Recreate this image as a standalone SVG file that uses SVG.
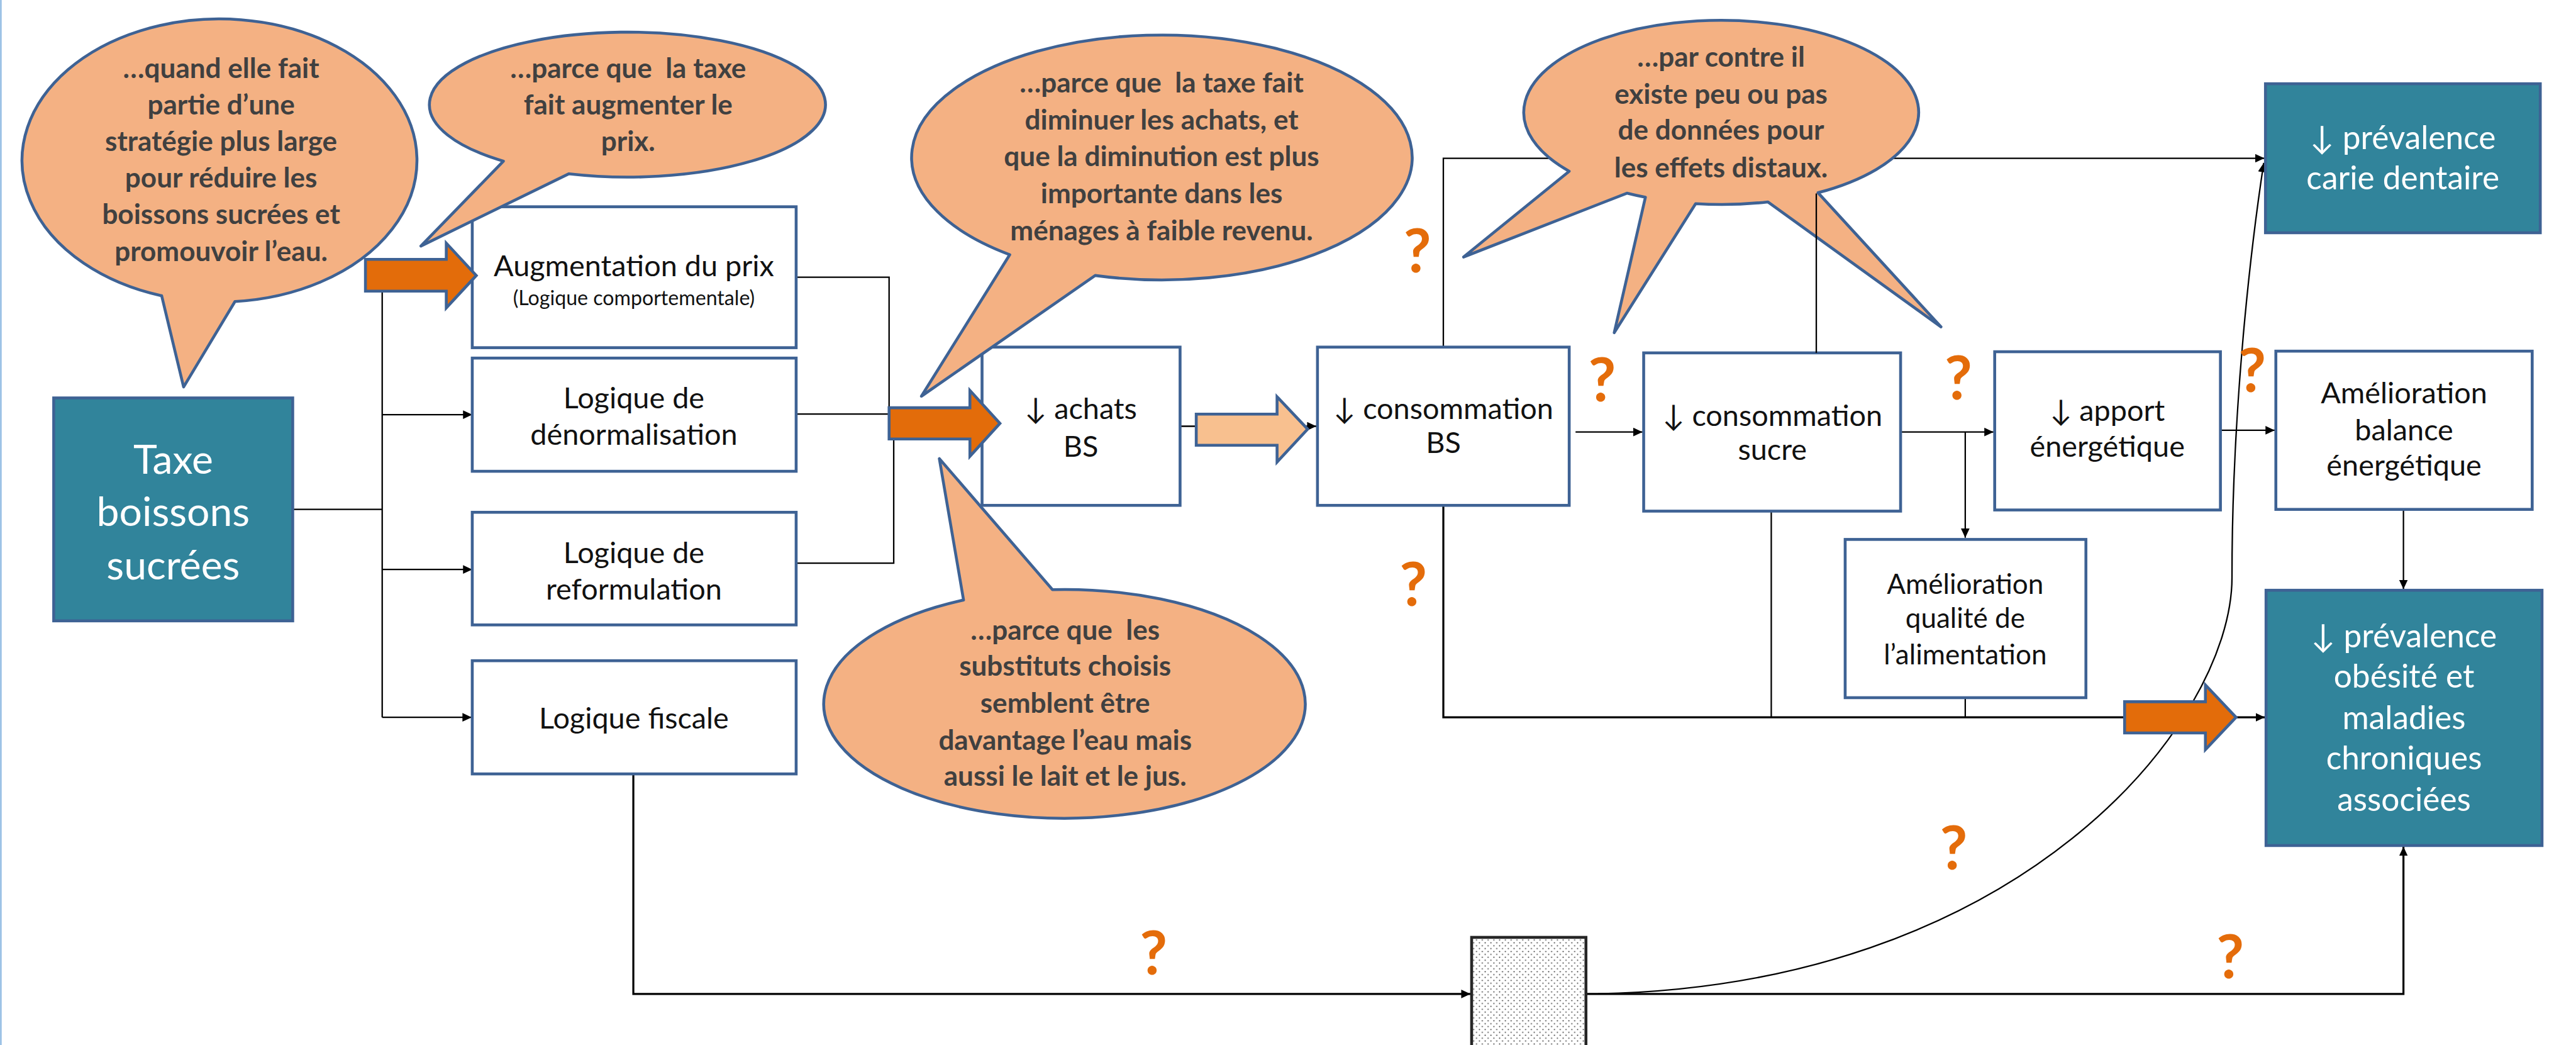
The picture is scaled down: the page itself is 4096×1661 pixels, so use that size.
<svg xmlns="http://www.w3.org/2000/svg" width="4096" height="1661" viewBox="0 0 4096 1661">
<defs>
<style>
.box{fill:#fff;stroke:#3e6294;stroke-width:5}
.tbox{fill:#31849b;stroke:#3e6294;stroke-width:5}
.bub{fill:#f4b183;stroke:#3e6294;stroke-width:5;stroke-linejoin:round}
.oa{fill:#e36c0a;stroke:#3e6294;stroke-width:5}
.la{fill:#f8c08f;stroke:#3e6294;stroke-width:5}
.c{fill:none;stroke:#000;stroke-width:2.5}
.ck{fill:none;stroke:#000;stroke-width:3.5}
.bt{font-family:Lato,'Liberation Sans',sans-serif;font-size:51px;fill:#111;text-anchor:middle}
.sm{font-size:35px}
.wt{font-family:Lato,'Liberation Sans',sans-serif;font-size:56px;fill:#fff;text-anchor:middle}
.big{font-size:70px}
.bx{font-family:Lato,'Liberation Sans',sans-serif;font-weight:700;font-size:48px;fill:#404040;text-anchor:middle;white-space:pre}
.q{font-family:Lato,'Liberation Sans',sans-serif;font-weight:700;font-size:104px;fill:#e46c0a;text-anchor:middle}
</style>
<marker id="ah" viewBox="0 0 16 15" refX="16" refY="7.5" markerWidth="16" markerHeight="15" markerUnits="userSpaceOnUse" orient="auto"><path d="M0,0 L16,7.5 L0,15 z" fill="#000"/></marker>
<pattern id="dots" width="10" height="10" patternUnits="userSpaceOnUse"><rect width="10" height="10" fill="#fff"/><circle cx="2.5" cy="2.5" r="1.1" fill="#333"/><circle cx="7.5" cy="7.5" r="1.1" fill="#333"/></pattern>
</defs>
<rect x="0" y="0" width="4096" height="1661" fill="#fff"/>
<g transform="scale(0.918)">
<rect x="0" y="0" width="3" height="1810" fill="#9dc3e6"/>

<g id="connectors">
<path class="c" d="M507,882 H662"/>
<path class="c" d="M662,504 V1242"/>
<path class="c" d="M662,718 H818" marker-end="url(#ah)"/>
<path class="c" d="M662,986 H818" marker-end="url(#ah)"/>
<path class="c" d="M662,1242 H817" marker-end="url(#ah)"/>
<path class="c" d="M1379,480 H1540 V706"/>
<path class="c" d="M1379,717 H1540"/>
<path class="c" d="M1379,975 H1548 V760"/>
<path class="c" d="M2044,738 H2280" marker-end="url(#ah)"/>
<path class="c" d="M2500,601 V274 H3922" marker-end="url(#ah)"/>
<path class="c" d="M2729,748 H2845" marker-end="url(#ah)"/>
<path class="c" d="M3292,748 H3453" marker-end="url(#ah)"/>
<path class="c" d="M3404,748 V931" marker-end="url(#ah)"/>
<path class="c" d="M3846,745 H3940" marker-end="url(#ah)"/>
<path class="c" d="M4163,882 V1020" marker-end="url(#ah)"/>
<path class="ck" d="M2500,875 V1242 H3923" marker-end="url(#ah)"/>
<path class="c" d="M3068,885 V1242"/>
<path class="c" d="M3404,1208 V1242"/>
<path class="ck" d="M1097,1340 V1721 H2547" marker-end="url(#ah)"/>
<path class="ck" d="M2747,1721 H4163 V1466" marker-end="url(#ah)"/>
<path class="c" d="M2747,1721 C3500,1715 3866,1250 3866,1000 C3866,700 3900,420 3921,282" marker-end="url(#ah)"/>
</g>

<g id="n-taxe">
<rect class="tbox" x="93" y="689" width="414" height="386"/>
<text class="wt big"><tspan x="300" y="820">Taxe</tspan><tspan x="300" y="911">boissons</tspan><tspan x="300" y="1003">sucrées</tspan></text>
</g>
<g id="n-augmentation">
<rect class="box" x="818" y="358" width="561" height="244"/>
<text class="bt"><tspan x="1098" y="478">Augmentation du prix</tspan><tspan class="sm" x="1098" y="528">(Logique comportementale)</tspan></text>
</g>
<g id="n-denormalisation">
<rect class="box" x="818" y="620" width="561" height="196"/>
<text class="bt"><tspan x="1098" y="707">Logique de</tspan><tspan x="1098" y="770">dénormalisation</tspan></text>
</g>
<g id="n-reformulation">
<rect class="box" x="818" y="887" width="561" height="195"/>
<text class="bt"><tspan x="1098" y="975">Logique de</tspan><tspan x="1098" y="1038">reformulation</tspan></text>
</g>
<g id="n-fiscale">
<rect class="box" x="818" y="1144" width="561" height="196"/>
<text class="bt" x="1098" y="1261">Logique fiscale</text>
</g>
<g id="n-achats">
<rect class="box" x="1701" y="601" width="343" height="274"/>
<text class="bt"><tspan x="1872" y="725">↓ achats</tspan><tspan x="1872" y="791">BS</tspan></text>
</g>
<g id="n-conso-bs">
<rect class="box" x="2282" y="601" width="436" height="274"/>
<text class="bt"><tspan x="2500" y="726">↓ consommation</tspan><tspan x="2500" y="784">BS</tspan></text>
</g>
<g id="n-conso-sucre">
<rect class="box" x="2847" y="611" width="445" height="274"/>
<text class="bt"><tspan x="3070" y="738">↓ consommation</tspan><tspan x="3070" y="796">sucre</tspan></text>
</g>
<g id="n-apport">
<rect class="box" x="3455" y="609" width="391" height="274"/>
<text class="bt"><tspan x="3650" y="729">↓ apport</tspan><tspan x="3650" y="791">énergétique</tspan></text>
</g>
<g id="n-balance">
<rect class="box" x="3942" y="608" width="444" height="274"/>
<text class="bt"><tspan x="4164" y="698">Amélioration</tspan><tspan x="4164" y="762">balance</tspan><tspan x="4164" y="823">énergétique</tspan></text>
</g>
<g id="n-qualite">
<rect class="box" x="3196" y="934" width="417" height="274"/>
<text class="bt" style="font-size:48px"><tspan x="3404" y="1028">Amélioration</tspan><tspan x="3404" y="1087">qualité de</tspan><tspan x="3404" y="1150">l’alimentation</tspan></text>
</g>
<g id="n-carie">
<rect class="tbox" x="3924" y="145" width="476" height="258"/>
<text class="wt"><tspan x="4162" y="258">↓ prévalence</tspan><tspan x="4162" y="328">carie dentaire</tspan></text>
</g>
<g id="n-obesite">
<rect class="tbox" x="3925" y="1022" width="478" height="442"/>
<text class="wt"><tspan x="4164" y="1121">↓ prévalence</tspan><tspan x="4164" y="1191">obésité et</tspan><tspan x="4164" y="1263">maladies</tspan><tspan x="4164" y="1332">chroniques</tspan><tspan x="4164" y="1404">associées</tspan></text>
</g>
<g id="n-hatched">
<rect x="2549" y="1623" width="198" height="200" fill="url(#dots)" stroke="#262626" stroke-width="5"/>
</g>

<g id="block-arrows">
<polygon class="oa" points="633,449 773,449 773,421 825,477 773,533 773,504 633,504"/>
<polygon class="oa" points="1540,706 1680,706 1680,676 1732,733 1680,790 1680,760 1540,760"/>
<polygon class="la" points="2072,717 2212,717 2212,687 2265,743 2212,800 2212,771 2072,771"/>
<polygon class="oa" points="3680,1215 3820,1215 3820,1186 3873,1242 3820,1298 3820,1269 3680,1269"/>
</g>

<g id="bubble-1">
<path class="bub" d="M407,522 A342,245 0 1 0 280,512 L318,670 Z"/>
<text class="bx"><tspan x="383" y="135">…quand elle fait</tspan><tspan x="383" y="198">partie d’une</tspan><tspan x="383" y="261">stratégie plus large</tspan><tspan x="383" y="325">pour réduire les</tspan><tspan x="383" y="388">boissons sucrées et</tspan><tspan x="383" y="452">promouvoir l’eau.</tspan></text>
</g>
<g id="bubble-2">
<path class="bub" d="M985,301 A343,125.5 0 1 0 872,279 L729,426 Z"/>
<text class="bx"><tspan x="1088" y="135">…parce que  la taxe</tspan><tspan x="1088" y="198">fait augmenter le</tspan><tspan x="1088" y="261">prix.</tspan></text>
</g>
<g id="bubble-3">
<path class="bub" d="M1897,477 A433.5,212 0 1 0 1749,441 L1596,686 Z"/>
<text class="bx"><tspan x="2012" y="160">…parce que  la taxe fait</tspan><tspan x="2012" y="224">diminuer les achats, et</tspan><tspan x="2012" y="288">que la diminution est plus</tspan><tspan x="2012" y="352">importante dans les</tspan><tspan x="2012" y="416">ménages à faible revenu.</tspan></text>
</g>
<g id="bubble-4">
<path class="bub" d="M1823,1021 A417,198 0 1 1 1669,1039 L1627,794 Z"/>
<text class="bx"><tspan x="1845" y="1108">…parce que  les</tspan><tspan x="1845" y="1170">substituts choisis</tspan><tspan x="1845" y="1234">semblent être</tspan><tspan x="1845" y="1298">davantage l’eau mais</tspan><tspan x="1845" y="1361">aussi le lait et le jus.</tspan></text>
</g>
<g id="bubble-5">
<path class="bub" d="M2718,296.5 A342,159.5 0 1 1 3149,333.7 L3362,566 L3062,349.6 A342,159.5 0 0 1 2937,352.6 L2796,576 L2850,341.6 A342,159.5 0 0 1 2818,334.5 L2535,445 Z"/>
<text class="bx"><tspan x="2981" y="116">…par contre il</tspan><tspan x="2981" y="180">existe peu ou pas</tspan><tspan x="2981" y="242">de données pour</tspan><tspan x="2981" y="307">les effets distaux.</tspan></text>
</g>

<g id="connectors-over">
<path class="c" d="M3146,335 V611"/>
</g>

<g id="question-marks">
<text class="q" x="2455" y="472">?</text>
<text class="q" x="2775" y="695">?</text>
<text class="q" x="3392" y="692">?</text>
<text class="q" x="3901" y="679">?</text>
<text class="q" x="2448" y="1049">?</text>
<text class="q" x="3384" y="1505">?</text>
<text class="q" x="3863" y="1694">?</text>
<text class="q" x="1998" y="1687">?</text>
</g>
</g>
</svg>
